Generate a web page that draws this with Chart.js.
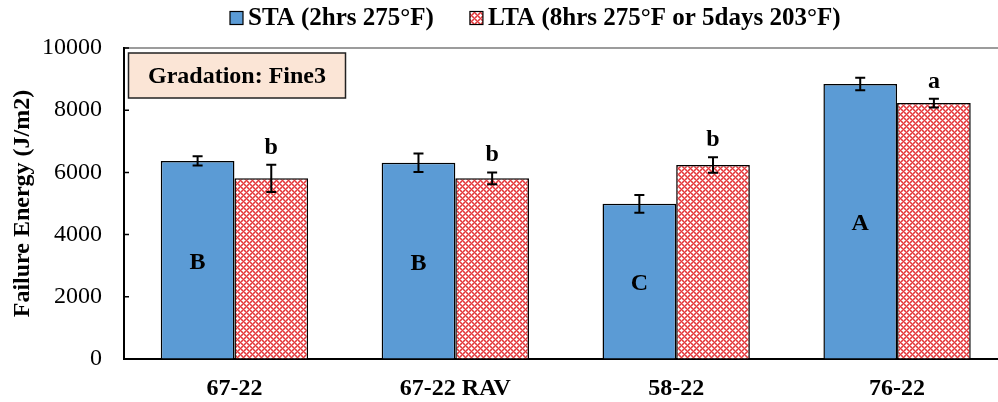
<!DOCTYPE html>
<html>
<head>
<meta charset="utf-8">
<script src="https://cdn.jsdelivr.net/npm/chart.js@4/dist/chart.umd.min.js"></script>
<style>
  html, body { margin: 0; padding: 0; background: #fff; overflow: hidden; }
  #wrap { width: 1012px; height: 402px; }
</style>
</head>
<body>
<div id="wrap"><canvas id="c" width="1012" height="402"></canvas></div>
<script>
// Failure energy by binder, short-term vs long-term aging
const categories = ['67-22', '67-22 RAV', '58-22', '76-22'];
const seriesNames = ['STA (2hrs 275°F)', 'LTA (8hrs 275°F or 5days 203°F)'];
const staValues = [6370, 6310, 4990, 8840];
const staErrors = [150, 295, 285, 200];
const ltaValues = [5810, 5810, 6240, 8230];
const ltaErrors = [440, 190, 250, 140];
const staGroups = ['B', 'B', 'C', 'A'];
const ltaGroups = ['b', 'b', 'b', 'a'];
const yMin = 0, yMax = 10000, yStep = 1000, yLabelStep = 2000;
const boxTitle = 'Gradation: Fine3';
const yTitle = 'Failure Energy (J/m2)';

const SERIF = '"Liberation Serif", "Times New Roman", serif';
const BLUE = '#5B9BD5';

// red lattice with small white diamonds
function makePattern() {
  const t = document.createElement('canvas');
  const n = 6;
  t.width = n; t.height = n;
  const g = t.getContext('2d');
  g.fillStyle = '#e3383b';
  g.fillRect(0, 0, n, n);
  const centers = [[3, 0], [0, 3]];
  for (let x = 0; x < n; x++) {
    for (let y = 0; y < n; y++) {
      let d = 99;
      centers.forEach(([cx, cy]) => {
        for (let ox = -n; ox <= n; ox += n) {
          for (let oy = -n; oy <= n; oy += n) {
            d = Math.min(d, Math.abs(x - cx - ox) + Math.abs(y - cy - oy));
          }
        }
      });
      if (d <= 1) { g.fillStyle = '#ffffff'; g.fillRect(x, y, 1, 1); }
      else if (d === 2) { g.fillStyle = '#f08688'; g.fillRect(x, y, 1, 1); }
    }
  }
  return g.createPattern(t, 'repeat');
}
const LTA_FILL = makePattern();

const errorSets = [staErrors, ltaErrors];

const decor = {
  id: 'decor',
  afterDatasetsDraw(chart) {
    const ctx = chart.ctx;
    const y = chart.scales.y;
    ctx.save();
    // error bars
    chart.data.datasets.forEach((ds, di) => {
      const meta = chart.getDatasetMeta(di);
      meta.data.forEach((bar, i) => {
        const v = ds.data[i], e = errorSets[di][i];
        const yt = y.getPixelForValue(v + e), yb = y.getPixelForValue(v - e);
        ctx.strokeStyle = '#000';
        ctx.lineWidth = 2;
        ctx.beginPath();
        ctx.moveTo(bar.x, yt); ctx.lineTo(bar.x, yb);
        ctx.moveTo(bar.x - 5, yt); ctx.lineTo(bar.x + 5, yt);
        ctx.moveTo(bar.x - 5, yb); ctx.lineTo(bar.x + 5, yb);
        ctx.stroke();
      });
    });
    // significance group letters
    ctx.fillStyle = '#000';
    ctx.font = 'bold 24px ' + SERIF;
    ctx.textAlign = 'center';
    ctx.textBaseline = 'alphabetic';
    const m0 = chart.getDatasetMeta(0);
    m0.data.forEach((bar, i) => {
      const mid = (bar.y + bar.base) / 2;
      ctx.fillText(staGroups[i], bar.x, mid + 9);
    });
    const m1 = chart.getDatasetMeta(1);
    m1.data.forEach((bar, i) => {
      const top = y.getPixelForValue(ltaValues[i] + ltaErrors[i]);
      ctx.fillText(ltaGroups[i], bar.x, top - 11);
    });
    ctx.restore();
  },
  afterDraw(chart) {
    const ctx = chart.ctx;
    const a = chart.chartArea;
    const y = chart.scales.y;
    ctx.save();
    // top frame line
    ctx.strokeStyle = '#3a3a3a';
    ctx.lineWidth = 1.2;
    ctx.beginPath();
    ctx.moveTo(a.left, a.top); ctx.lineTo(a.right, a.top);
    ctx.stroke();
    // inward tick marks
    ctx.strokeStyle = '#000';
    ctx.lineWidth = 1.5;
    ctx.beginPath();
    y.ticks.forEach(t => {
      const py = y.getPixelForValue(t.value);
      ctx.moveTo(a.left, py); ctx.lineTo(a.left + 5, py);
    });
    ctx.stroke();
    // gradation label box
    const bx = a.left + 4.5, by = a.top + 5, bw = 217, bh = 45;
    ctx.fillStyle = '#FBE5D6';
    ctx.fillRect(bx, by, bw, bh);
    ctx.strokeStyle = '#222';
    ctx.lineWidth = 1.5;
    ctx.strokeRect(bx, by, bw, bh);
    ctx.fillStyle = '#000';
    ctx.font = 'bold 24px ' + SERIF;
    ctx.textAlign = 'center';
    ctx.textBaseline = 'middle';
    ctx.fillText(boxTitle, bx + bw / 2, by + bh / 2 + 1);
    // legend
    ctx.font = 'bold 25px ' + SERIF;
    ctx.textAlign = 'left';
    ctx.textBaseline = 'middle';
    let x = 230;
    const ly = 18, box = 13;
    chart.data.datasets.forEach((ds, di) => {
      ctx.fillStyle = ds.backgroundColor;
      ctx.fillRect(x, ly - box / 2, box, box);
      ctx.strokeStyle = '#000';
      ctx.lineWidth = 1.2;
      ctx.strokeRect(x, ly - box / 2, box, box);
      x += box + 5;
      ctx.fillStyle = '#000';
      ctx.fillText(ds.label, x, ly + 1);
      x += ctx.measureText(ds.label).width + 36;
    });
    ctx.restore();
  }
};

new Chart(document.getElementById('c'), {
  type: 'bar',
  data: {
    labels: categories,
    datasets: [
      { label: seriesNames[0], data: staValues, backgroundColor: BLUE, borderColor: '#000', borderWidth: 1.5 },
      { label: seriesNames[1], data: ltaValues, backgroundColor: LTA_FILL, borderColor: '#000', borderWidth: 1.5 }
    ]
  },
  options: {
    responsive: false,
    devicePixelRatio: 1,
    animation: false,
    categoryPercentage: 0.667,
    barPercentage: 1.0,
    layout: { padding: { top: 48, left: 0, right: 4.5, bottom: 0 } },
    plugins: { legend: { display: false }, tooltip: { enabled: false } },
    scales: {
      x: {
        grid: { display: false, drawTicks: false },
        border: { display: true, color: '#000', width: 2 },
        ticks: { color: '#000', font: { family: SERIF, size: 24, weight: 'bold' }, padding: 15, maxRotation: 0 },
        afterFit(s) { s.height = 43; }
      },
      y: {
        min: yMin, max: yMax,
        grid: { drawOnChartArea: false, drawTicks: false },
        border: { display: true, color: '#000', width: 2 },
        ticks: {
          stepSize: yStep,
          color: '#000',
          font: { family: SERIF, size: 24 },
          padding: 22,
          callback: v => (v % yLabelStep === 0 ? v : '')
        },
        title: {
          display: true, text: yTitle, color: '#000',
          font: { family: SERIF, size: 24, weight: 'bold' },
          padding: { top: 8, bottom: 0 }
        },
        afterFit(s) { s.width = 124; }
      }
    }
  },
  plugins: [decor]
});
</script>
</body>
</html>
